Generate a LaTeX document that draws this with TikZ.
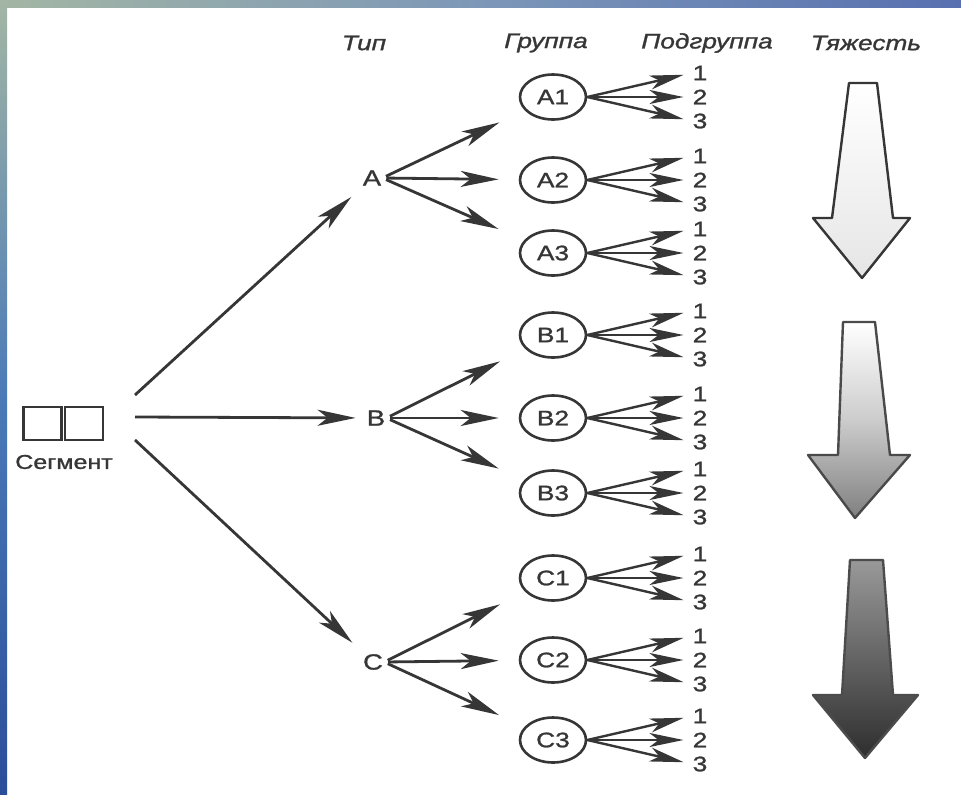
\documentclass[tikz,border=0pt]{standalone}
\usepackage{fontspec}
\setmainfont{Liberation Sans}[FakeStretch=1.25,FakeBold=1.2]
\usetikzlibrary{arrows.meta,shapes.geometric}
\definecolor{ink}{HTML}{363636}
\definecolor{bandA}{HTML}{A3B6A4}
\definecolor{bandB}{HTML}{7C97B8}
\definecolor{bandC}{HTML}{5870B0}
\definecolor{bandD}{HTML}{4A7AB8}
\definecolor{bandE}{HTML}{2B4D9A}
\tikzset{
  txt/.style={text=ink, inner sep=1pt},
  head/.style={txt, font=\fontsize{21}{23}\selectfont\itshape},
  typ/.style={txt, font=\fontsize{22}{24}\selectfont},
  grp/.style={draw=ink, line width=2.6pt, ellipse, minimum width=66pt,
    minimum height=45pt, inner sep=0pt, text=ink,
    font=\fontsize{21}{22}\selectfont},
  num/.style={txt, font=\fontsize{21}{22}\selectfont},
  segbox/.style={draw=ink, line width=2.4pt, minimum width=38pt,
    minimum height=33pt, inner sep=0pt},
  link/.style={draw=ink, line width=2.8pt,
    -{Stealth[length=38pt,width=16pt,inset=10pt]}},
  fan/.style={draw=ink, line width=2.4pt,
    -{Stealth[length=34pt,width=14pt,inset=9pt]}, shorten >=8pt},
  bigarrow/.style={line width=2.4pt, line join=round},
}
\begin{document}
\begin{tikzpicture}[x=1pt,y=-1pt]
\useasboundingbox (0,0) rectangle (961,795);
\fill[white] (0,0) rectangle (961,795);
% frame bands
\shade[left color=bandA, right color=bandC, middle color=bandB] (0,0) rectangle (961,7);
\shade[top color=bandA, bottom color=bandE, middle color=bandD] (0,0) rectangle (7,795);

% column headings
\node[head] (hType)  at (364,43) {Тип};
\node[head] (hGroup) at (546,43) {Группа};
\node[head] (hSub)   at (707,43) {Подгруппа};
\node[head] (hSev)   at (866,43) {Тяжесть};

% segment
\node[segbox] (seg1) at (42.5,423.5) {};
\node[segbox] (seg2) at (84,423.5) {};
\node[txt, font=\fontsize{20}{22}\selectfont] (segl) at (64,462) {Сегмент};
\coordinate (sa) at (135,395);
\coordinate (sb) at (135,417);
\coordinate (sc) at (135,440);

% types
\node[typ] (A) at (372,178) {A};
\node[typ] (B) at (376,418) {B};
\node[typ] (C) at (373,662) {C};

\draw[link, shorten >=15pt] (sa) -- (A);
\draw[link, shorten >=10pt] (sb) -- (B);
\draw[link, shorten >=15pt] (sc) -- (C);

% groups and subgroups
\foreach \g/\yy in {A1/97,A2/180,A3/253,B1/335,B2/418,B3/493,C1/578,C2/660,C3/740}{
  \node[grp] (\g) at (553,\yy) {\g};
  \node[num] (\g-1) at (700,\yy-24) {1};
  \node[num] (\g-2) at (700,\yy) {2};
  \node[num] (\g-3) at (700,\yy+24) {3};
  \draw[fan] (\g.east) -- (\g-1.west);
  \draw[fan] (\g.east) -- (\g-2.west);
  \draw[fan] (\g.east) -- (\g-3.west);
}
\foreach \t in {A,B,C}{
  \draw[link, shorten <=4pt, shorten >=28pt] (\t.east) -- (\t1);
  \draw[link, shorten <=4pt, shorten >=20pt] (\t.east) -- (\t2);
  \draw[link, shorten <=4pt, shorten >=28pt] (\t.east) -- (\t3);
}

% severity arrows
\path[bigarrow, draw=ink, top color=white, bottom color=black!10]
  (849,83) -- (877,83) -- (893,218) -- (910,218) -- (862,278)
  -- (813,218) -- (832,218) -- cycle;
\path[bigarrow, draw=ink!90, top color=white, bottom color=black!50, middle color=black!20]
  (843,322) -- (875,322) -- (890,455) -- (910,455) -- (855,518)
  -- (808,455) -- (838,455) -- cycle;
\path[bigarrow, draw=black!70, top color=black!40, bottom color=black!82]
  (850,560) -- (883,560) -- (893,695) -- (918,695) -- (865,758)
  -- (813,695) -- (842,695) -- cycle;
\end{tikzpicture}
\end{document}
